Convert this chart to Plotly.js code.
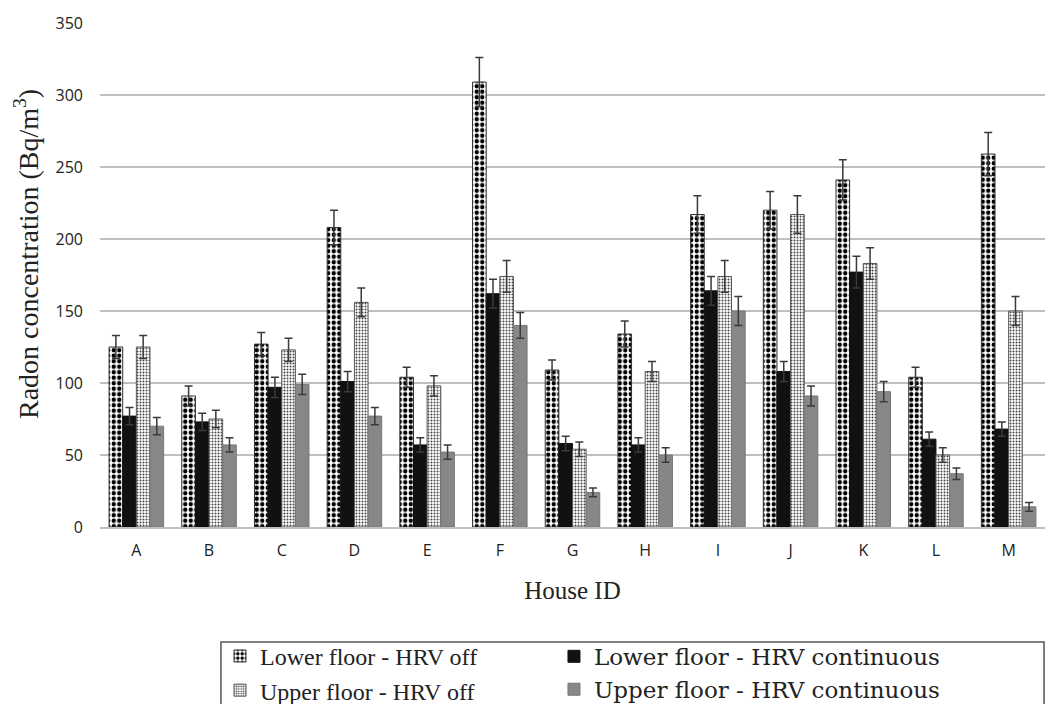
<!DOCTYPE html>
<html>
<head>
<meta charset="utf-8">
<script src="https://cdn.plot.ly/plotly-3.0.1.min.js"></script>
<style>
html, body { margin: 0; padding: 0; background: #fff; }
#chart { width: 1046px; height: 704px; }
</style>
</head>
<body>
<div id="chart"></div>
<script>
const houses = ["A","B","C","D","E","F","G","H","I","J","K","L","M"];
const lowerOff = [125, 91, 127, 208, 104, 309, 109, 134, 217, 220, 241, 104, 259];
const lowerOffErr = [8, 7, 8, 12, 7, 17, 7, 9, 13, 13, 14, 7, 15];
const lowerCont = [77, 73, 97, 101, 57, 162, 58, 57, 164, 108, 177, 61, 68];
const lowerContErr = [6, 6, 7, 7, 5, 10, 5, 5, 10, 7, 11, 5, 5];
const upperOff = [125, 75, 123, 156, 98, 174, 54, 108, 174, 217, 183, 50, 150];
const upperOffErr = [8, 6, 8, 10, 7, 11, 5, 7, 11, 13, 11, 5, 10];
const upperCont = [70, 57, 99, 77, 52, 140, 24, 50, 150, 91, 94, 37, 14];
const upperContErr = [6, 5, 7, 6, 5, 9, 3, 5, 10, 7, 7, 4, 3];
const seriesNames = ["Lower floor - HRV off", "Lower floor - HRV continuous", "Upper floor - HRV off", "Upper floor - HRV continuous"];
const xTitle = 'House ID';
const yTitle = 'Radon concentration (Bq/m<sup>3</sup>)';

const serif = 'Liberation Serif, Times New Roman, serif';
const wideSerif = 'DejaVu Serif, Liberation Serif, serif';
const sans = 'Open Sans, Liberation Sans, sans-serif';

function errBar(arr) {
  return {type: 'data', array: arr, visible: true, color: '#3a3a3a', thickness: 1.5, width: 4};
}

const traces = [
  {
    type: 'bar', name: seriesNames[0], x: houses, y: lowerOff, error_y: errBar(lowerOffErr), legend: 'legend',
    marker: {color: '#ffffff', line: {color: '#333', width: 1},
      pattern: {shape: '.', size: 5.5, solidity: 0.5, fgcolor: '#000', bgcolor: '#fff'}}
  },
  {
    type: 'bar', name: seriesNames[1], x: houses, y: lowerCont, error_y: errBar(lowerContErr), legend: 'legend2',
    marker: {color: '#111111', line: {color: '#111', width: 1}}
  },
  {
    type: 'bar', name: seriesNames[2], x: houses, y: upperOff, error_y: errBar(upperOffErr), legend: 'legend',
    marker: {color: '#ffffff', line: {color: '#555', width: 1},
      pattern: {shape: '.', size: 3, solidity: 0.35, fgcolor: '#444', bgcolor: '#fff'}}
  },
  {
    type: 'bar', name: seriesNames[3], x: houses, y: upperCont, error_y: errBar(upperContErr), legend: 'legend2',
    marker: {color: '#878787', line: {color: '#777', width: 1}}
  }
];

const layout = {
  width: 1046, height: 704,
  paper_bgcolor: '#fff', plot_bgcolor: '#fff',
  margin: {l: 100, r: 1, t: 23, b: 177, autoexpand: false},
  barmode: 'group', bargap: 0.25, bargroupgap: 0,
  font: {family: sans, color: '#222'},
  xaxis: {
    type: 'category',
    showline: true, linecolor: '#bfbfbf', linewidth: 1.5,
    ticks: '', tickfont: {size: 16, color: '#222'},
    ticklabelstandoff: 8,
    title: {text: xTitle, font: {family: serif, size: 25, color: '#222'}, standoff: 22},
    automargin: false
  },
  yaxis: {
    range: [0, 350], dtick: 50, tick0: 0,
    showgrid: true, gridcolor: '#bfbfbf', gridwidth: 1.5,
    zeroline: false, showline: false, ticks: '',
    ticklabelstandoff: 16,
    tickfont: {size: 16, color: '#222'},
    automargin: false
  },
  annotations: [{
    text: yTitle, textangle: -90, showarrow: false,
    xref: 'paper', yref: 'paper', x: -0.0772, y: 0.5417,
    xanchor: 'center', yanchor: 'middle',
    font: {family: serif, size: 28, color: '#222'}
  }],
  showlegend: true,
  legend: {
    orientation: 'v', x: 0.127, xanchor: 'left', y: -0.212, yanchor: 'top',
    bgcolor: 'rgba(0,0,0,0)', borderwidth: 0,
    font: {family: serif, size: 24, color: '#222'}, itemwidth: 30, tracegroupgap: 0
  },
  legend2: {
    orientation: 'v', x: 0.4804, xanchor: 'left', y: -0.214, yanchor: 'top',
    bgcolor: 'rgba(0,0,0,0)', borderwidth: 0,
    font: {family: wideSerif, size: 23, color: '#222'}, itemwidth: 30, tracegroupgap: 0
  },
  shapes: [{
    type: 'rect', xref: 'paper', yref: 'paper',
    x0: 0.128, x1: 0.999, y0: -0.228, y1: -0.42,
    line: {color: '#555', width: 1.5}, fillcolor: 'rgba(0,0,0,0)', layer: 'below'
  }]
};

Plotly.newPlot('chart', traces, layout, {displayModeBar: false, staticPlot: true});
</script>
</body>
</html>
